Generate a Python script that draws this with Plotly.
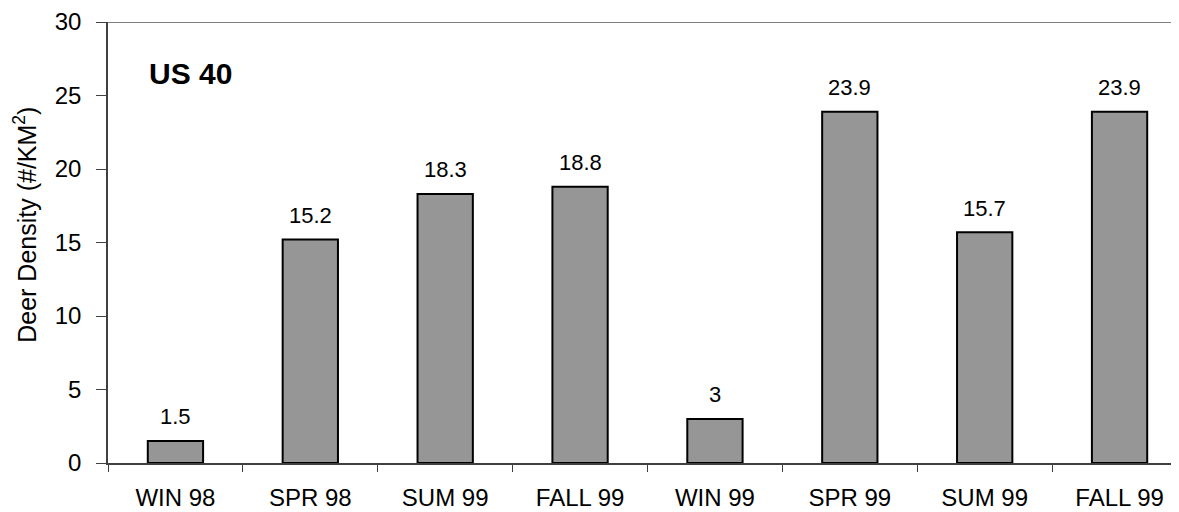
import plotly.graph_objects as go

# ---------- data ----------
seasons = ["WIN 98", "SPR 98", "SUM 99", "FALL 99", "WIN 99", "SPR 99", "SUM 99 ", "FALL 99 "]
tick_text = ["WIN 98", "SPR 98", "SUM 99", "FALL 99", "WIN 99", "SPR 99", "SUM 99", "FALL 99"]
density = [1.5, 15.2, 18.3, 18.8, 3, 23.9, 15.7, 23.9]
y_ticks = [0, 5, 10, 15, 20, 25, 30]

FONT = "Liberation Sans, Arial, sans-serif"

fig = go.Figure(
    go.Bar(
        x=seasons,
        y=density,
        marker=dict(color="#969696", line=dict(color="black", width=2)),
        hoverinfo="x+y",
    )
)

# value labels above the bars
for s, v in zip(seasons, density):
    fig.add_annotation(
        x=s, y=v, text=f"{v:g}", showarrow=False,
        yshift=24, font=dict(size=22, color="black", family=FONT),
    )

# panel label
fig.add_annotation(
    xref="paper", yref="paper", x=0.036, y=0.883, xanchor="left", yanchor="middle",
    text="<b>US 40</b>", showarrow=False, font=dict(size=30, color="black", family=FONT),
)

# y axis title (placed by hand, sits a little above centre like the original)
fig.add_annotation(
    xref="paper", yref="paper", x=-0.077, y=0.54, xanchor="center", yanchor="middle",
    text="Deer Density (#/KM<sup>2</sup>)", textangle=-90, showarrow=False,
    font=dict(size=25, color="black", family=FONT),
)

# top frame line
fig.add_shape(type="line", xref="paper", yref="y", x0=0, x1=1, y0=30, y1=30,
              line=dict(color="#808080", width=2))

fig.update_layout(
    width=1179, height=512,
    margin=dict(l=100, r=0, t=12, b=57),
    plot_bgcolor="white", paper_bgcolor="white",
    bargap=0.59,
    showlegend=False,
    font=dict(family=FONT, color="black"),
)
fig.update_xaxes(
    tickmode="array", tickvals=seasons, ticktext=tick_text,
    tickson="boundaries", ticks="outside", ticklen=7, tickcolor="#404040",
    showline=True, linecolor="#404040", linewidth=1.5,
    tickfont=dict(size=24), ticklabelstandoff=12, showgrid=False,
)
fig.update_yaxes(
    range=[0, 30], tickvals=y_ticks, ticks="outside", ticklen=10, tickcolor="#404040",
    showline=True, linecolor="#404040", linewidth=1.5, showgrid=False, zeroline=False,
    tickfont=dict(size=24), ticklabelstandoff=10, ticklabeloverflow="allow",
)

fig.write_html("out.html")
